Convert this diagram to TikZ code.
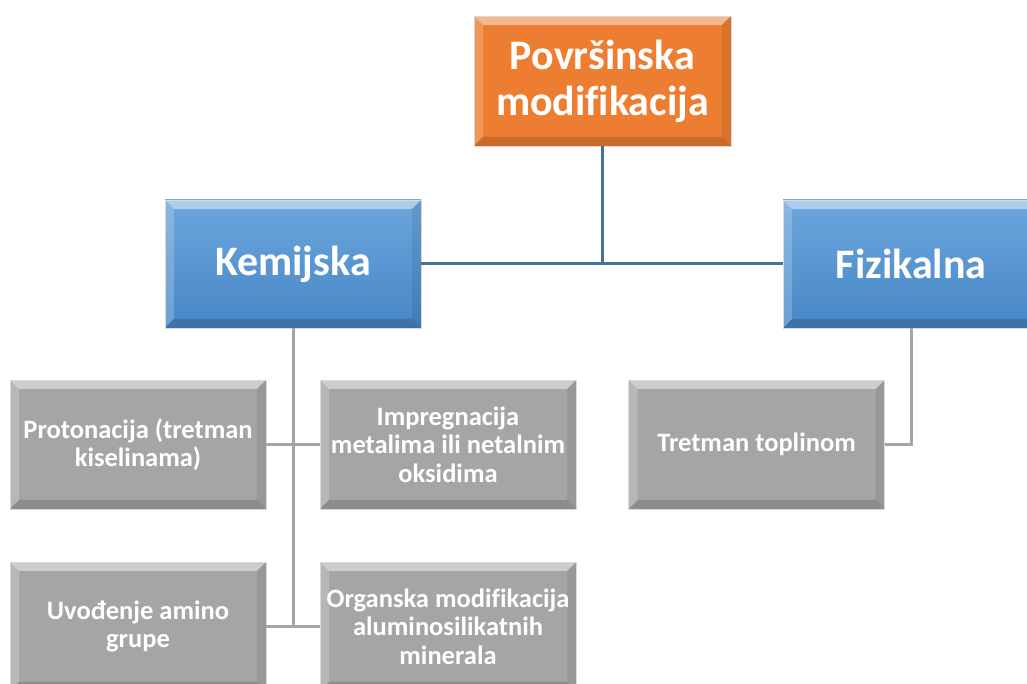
\documentclass[tikz,border=0pt]{standalone}
\usepackage{fontspec}
\setmainfont[Ligatures=NoCommon,RawFeature=-liga]{Carlito}
\usetikzlibrary{calc}
\definecolor{orangeB}{HTML}{ED7D31}
\definecolor{blueTop}{HTML}{6CA6DC}
\definecolor{blueBot}{HTML}{4787C7}
\definecolor{grayB}{HTML}{A5A5A5}
\definecolor{lineBlue}{HTML}{41719C}
\definecolor{lineGray}{HTML}{A5A5A5}
\tikzset{
  bevw/.store in=\bevw, bevw=9,
  bevelbox/.style={rectangle, inner sep=1pt, align=center, text=white,
    draw=white!85!black, line width=0.8pt,
    path picture={
      \coordinate (nw) at (path picture bounding box.north west);
      \coordinate (ne) at (path picture bounding box.north east);
      \coordinate (sw) at (path picture bounding box.south west);
      \coordinate (se) at (path picture bounding box.south east);
      \fill[white, opacity=0.45] (nw) -- (ne) -- ($(ne)+(-\bevw,-\bevw)$) -- ($(nw)+(\bevw,-\bevw)$) -- cycle;
      \fill[white, opacity=0.2] (nw) -- ($(nw)+(\bevw,-\bevw)$) -- ($(sw)+(\bevw,\bevw)$) -- (sw) -- cycle;
      \fill[black, opacity=0.08] (ne) -- (se) -- ($(se)+(-\bevw,\bevw)$) -- ($(ne)+(-\bevw,-\bevw)$) -- cycle;
      \fill[black, opacity=0.15] (sw) -- (se) -- ($(se)+(-\bevw,\bevw)$) -- ($(sw)+(\bevw,\bevw)$) -- cycle;
    }},
  topbox/.style={bevelbox, fill=orangeB, minimum width=257, minimum height=130,
    font=\bfseries\fontsize{42}{46}\selectfont},
  bluebox/.style={bevelbox, top color=blueTop, bottom color=blueBot, minimum width=256, minimum height=128,
    font=\bfseries\fontsize{42}{46}\selectfont},
  graybox/.style={bevelbox, fill=grayB, minimum width=256, minimum height=129,
    font=\bfseries\fontsize{26.5}{28.5}\selectfont},
  bline/.style={draw=lineBlue, line width=3pt},
  gline/.style={draw=lineGray, line width=3pt},
}
\begin{document}
\begin{tikzpicture}[x=1pt,y=1pt]
\useasboundingbox (0,0) rectangle (1027,684);
\clip (0,0) rectangle (1027,684);
\node[topbox] (top) at (602.5,603) {Površinska\\modifikacija};
\node[bluebox] (kem) at (293,420) {Kemijska};
\node[bluebox] (fiz) at (911,420) {Fizikalna};
\node[graybox] (prot) at (138,239.5) {Protonacija (tretman\\kiselinama)};
\node[graybox] (imp) at (448,239.5) {Impregnacija\\metalima ili netalnim\\oksidima};
\node[graybox] (uvo) at (138,57.5) {Uvođenje amino\\grupe};
\node[graybox] (org) at (448,57.5) {Organska modifikacija\\aluminosilikatnih\\minerala};
\node[graybox] (tret) at (756.5,239.5) {Tretman toplinom};
\draw[bline] (top.south) |- (kem.east);
\draw[bline] (top.south) |- (fiz.west);
\draw[gline] (kem.south) |- (prot.east);
\draw[gline] (kem.south) |- (imp.west);
\draw[gline] (kem.south) |- (uvo.east);
\draw[gline] (kem.south) |- (org.west);
\draw[gline] (fiz.south) |- (tret.east);
\end{tikzpicture}
\end{document}
